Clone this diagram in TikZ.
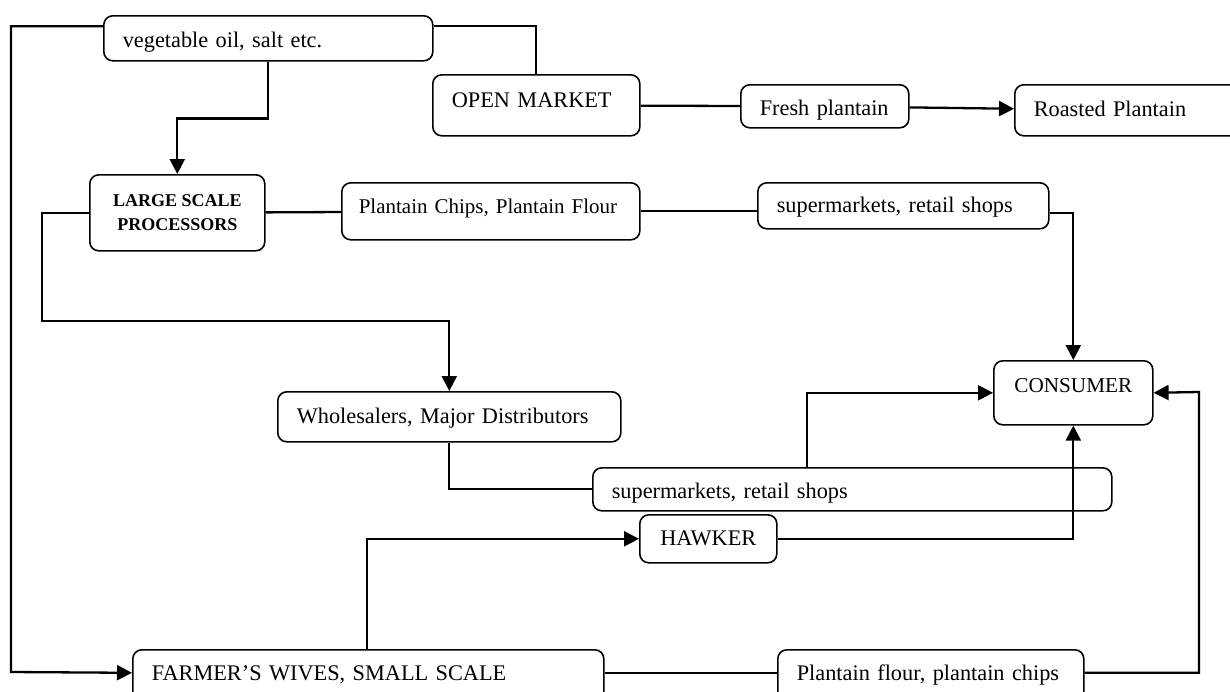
\documentclass[tikz,border=0pt]{standalone}
\usepackage{fontspec}
\setmainfont{Liberation Serif}
\usepackage{tikz}
\tikzset{plain box/.style={draw,rounded corners=9pt,line width=1.6pt,anchor=north west,inner ysep=0pt},
	box node/.style={plain box,inner xsep=19pt,align=left,text depth=5pt,text height=#1,font=\fontsize{22.3}{26}\selectfont},
	box node/.default=15pt,
	flow/.style={line width=2.3pt},
	go/.style={flow,-{Triangle[length=15pt,width=15pt]}},
}
\usetikzlibrary{arrows.meta}

\begin{document}
\begin{tikzpicture}[x=1pt,y=-1pt]
			\useasboundingbox (0,0) rectangle (1230,691);
			
			%%
			\node[box node=24pt,minimum width=329pt,minimum height=45pt,text width=291pt] (1) at (103,15) {vegetable oil, salt etc.};
			\node[box node=10pt,minimum width=207pt,minimum height=61pt,text width=169pt] (2) at (432,74) {OPEN MARKET};
			\node[box node=24pt,minimum width=168pt,minimum height=43pt,text width=130pt] (3) at (740,84) {Fresh plantain};
			\node[box node=18pt,minimum width=236pt,minimum height=51pt,text width=198pt] (4) at (1014,84) {Roasted Plantain};
			\node[plain box,align=center,minimum width=175pt,minimum height=76pt,font=\fontsize{18}{24}\selectfont\bfseries] (5) at (89,174) {LARGE SCALE\\PROCESSORS};
			\node[box node=10pt,inner xsep=17pt,minimum width=298pt,minimum height=57pt,text width=264pt,font=\fontsize{21}{25}\selectfont] (6) at (341,182) {Plantain Chips, Plantain Flour};
			\node[box node=19pt,minimum width=291pt,minimum height=46pt,text width=253pt] (7) at (757,182) {supermarkets, retail shops};
			\node[box node=5pt,align=center,minimum width=159pt,minimum height=64pt,text width=121pt,font=\fontsize{21.2}{25}\selectfont] (8) at (993,360) {CONSUMER};
			\node[box node=19pt,minimum width=343pt,minimum height=50pt,text width=305pt] (9) at (277,391) {Wholesalers, Major Distributors};
			\node[box node=24pt,minimum width=519pt,minimum height=43pt,text width=481pt] (10) at (592,467) {supermarkets, retail shops};
			\node[box node=19pt,align=center,minimum width=137pt,minimum height=48pt,text width=99pt] (11) at (639,514) {HAWKER};
			\node[box node=11pt,minimum width=471pt,minimum height=56pt,text width=433pt] (12) at (132,649) {FARMER’S WIVES, SMALL SCALE};
			\node[box node=11pt,minimum width=306pt,minimum height=56pt,text width=268pt] (13) at (777,649) {Plantain flour, plantain chips};
			
			\path[flow]
			(2) edge node {} (3)
			(3) edge[go] node {} (4)
			(5) edge node {} (6)
			;
			\draw[flow] (6.east) -- (6.east -| 7.west);
			\draw[flow] ([yshift=12pt]1.east) -| (2.north);
			\draw[go] ([yshift=12pt]1.west) -| (11,672) -- ([yshift=5pt]12.west);
			\draw[go] (1.south) -- ++(0,57) -| (5.north);
			\draw[go] ([yshift=-7pt]7.east) -| (8.north);
			\draw[go] (5.west) -| (42,321) -| (9.north);
			\draw[flow] (9.south) |- (10.west);
			\draw[go] (807,0 |- 10.north) |- (8.west);
			\draw[go] (11.east) -| (8.south);
			\draw[go] (367,0 |- 12.north) |- (11.west);
			\draw[flow] ([yshift=5pt]12.east) -- ([yshift=5pt]13.west);
			\draw[go] ([yshift=5pt]13.east) -| (1199,392) -- (8.east);
\end{tikzpicture}
\end{document}
